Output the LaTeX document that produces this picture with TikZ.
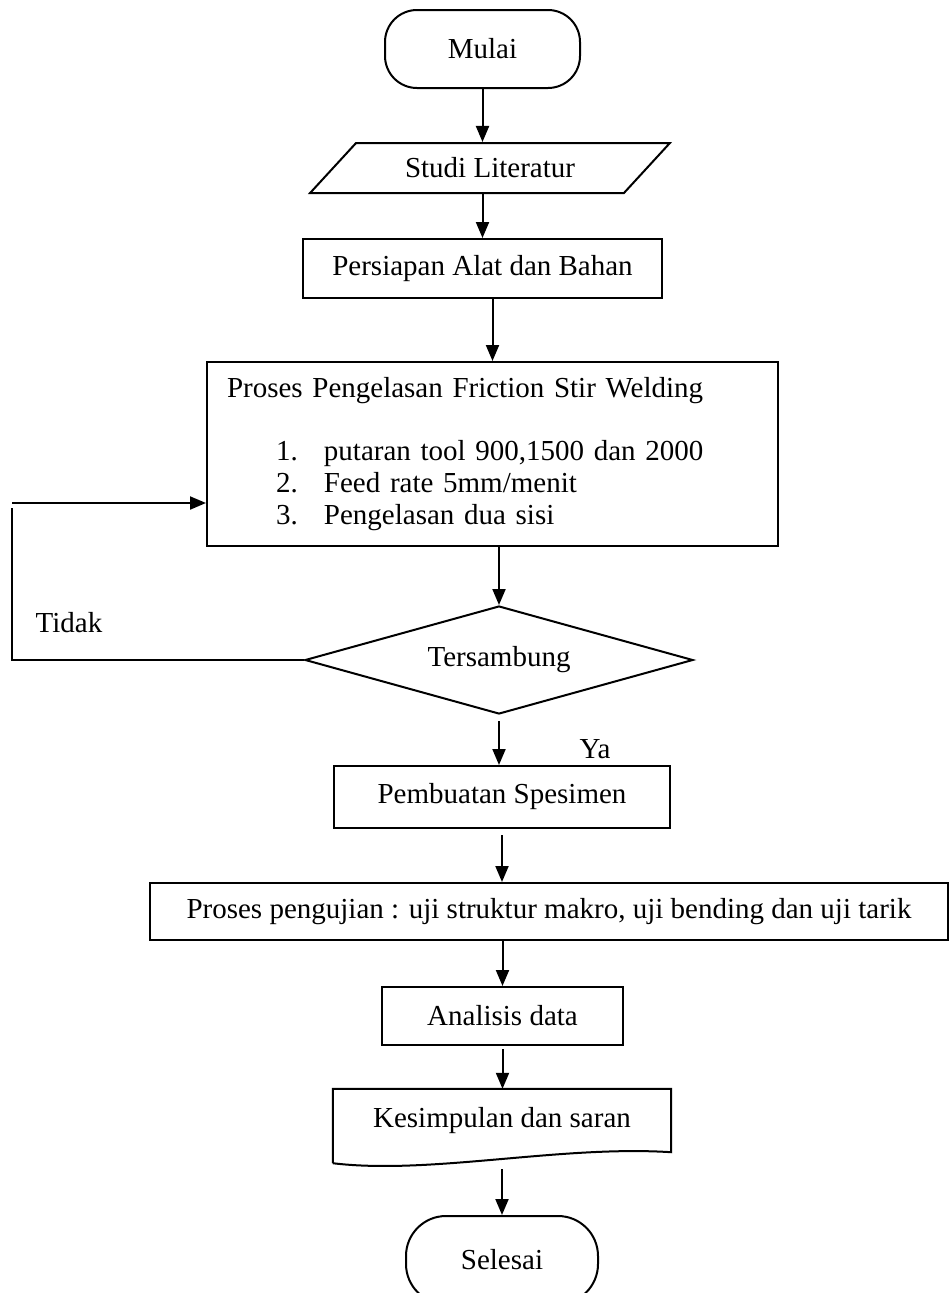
\documentclass[tikz,border=0pt]{standalone}
\usepackage{fontspec}
\setmainfont{Liberation Serif}
\usetikzlibrary{shapes.geometric,arrows.meta,calc}

\tikzset{
  box/.style={draw, line width=2pt, inner sep=0pt},
  arr/.style={-{Triangle[length=16pt,width=13pt]}, line width=2pt},
  thinline/.style={line width=1.1pt},
}

\begin{document}
\begin{tikzpicture}[x=1pt,y=-1pt,font=\fontsize{29}{32}\selectfont]
	\useasboundingbox (0,0) rectangle (952,1293);
	%
	\node[box, rounded corners=32pt, minimum width=195pt, minimum height=78pt] (mulai) at (482.5,49) {Mulai};
	\node[box, trapezium, trapezium left angle=35, trapezium right angle=145, trapezium stretches=true,
		minimum width=360pt, minimum height=50pt] (studi) at (490,168) {Studi Literatur};
	\node[box, minimum width=359pt, minimum height=59pt] (persiapan) at (482.5,268.5) {Persiapan Alat dan Bahan};
	\node[box, inner xsep=20pt, text width=531pt, minimum height=184pt, align=left] (proses) at (492.5,454)
		{Proses Pengelasan Friction Stir Welding\\[31pt]
		\hspace*{49pt}\makebox[48pt][l]{1.}putaran tool 900,1500 dan 2000\\
		\hspace*{49pt}\makebox[48pt][l]{2.}Feed rate 5mm/menit\\
		\hspace*{49pt}\makebox[48pt][l]{3.}Pengelasan dua sisi};
	\node[box, diamond, aspect=3.6, minimum width=388pt, minimum height=108pt] (tersambung) at (499,660) {Tersambung};
	\node[box, minimum width=336pt, minimum height=62pt] (pembuatan) at (502,797) {Pembuatan Spesimen};
	\node[box, minimum width=798pt, minimum height=57pt] (pengujian) at (549,911.5)
		{Proses pengujian : uji struktur makro, uji bending dan uji tarik};
	\node[box, minimum width=241pt, minimum height=58pt] (analisis) at (502.5,1016) {Analisis data};
	\node[inner sep=0pt, minimum width=338pt, minimum height=63pt] (kesimpulan) at (502,1120.5) {Kesimpulan dan saran};
	\node[box, rounded corners=40pt, minimum width=192pt, minimum height=88pt] (selesai) at (502,1260) {Selesai};
	%
	\draw[line width=2pt] ([yshift=-11pt]kesimpulan.south west) -- (kesimpulan.north west) -- (kesimpulan.north east)
		-- (kesimpulan.south east) .. controls (560,1145) and (430,1175) .. ([yshift=-11pt]kesimpulan.south west);
	%
	\node[anchor=base] (ya) at (595,758) {Ya};
	\node[anchor=base] (tidak) at (69,632) {Tidak};
	%
	\draw[arr] (mulai.south) -- (mulai.south |- studi.north);
	\draw[arr] (persiapan.north |- studi.south) -- (persiapan.north);
	\draw[arr] (proses.north |- persiapan.south) -- (proses.north);
	\draw[arr] (proses.south -| tersambung.north) -- (tersambung.north);
	\draw[arr, shorten <=6pt] (tersambung.south) -- (tersambung.south |- pembuatan.north);
	\draw[arr, shorten <=6pt] (pembuatan.south) -- (pembuatan.south |- pengujian.north);
	\draw[arr] (analisis.north |- pengujian.south) -- (analisis.north);
	\draw[arr, shorten <=3pt] (analisis.south) -- (analisis.south |- kesimpulan.north);
	\draw[arr, shorten <=6pt] ([yshift=-11pt]kesimpulan.south) -- (kesimpulan.south |- selesai.north);
	%
	\coordinate (kiri) at (12,508);
	\coordinate (balik) at (12,503);
	\draw[thinline] (tersambung.west) -| (kiri);
	\draw[arr] (balik) -- (balik -| proses.west);
\end{tikzpicture}
\end{document}
